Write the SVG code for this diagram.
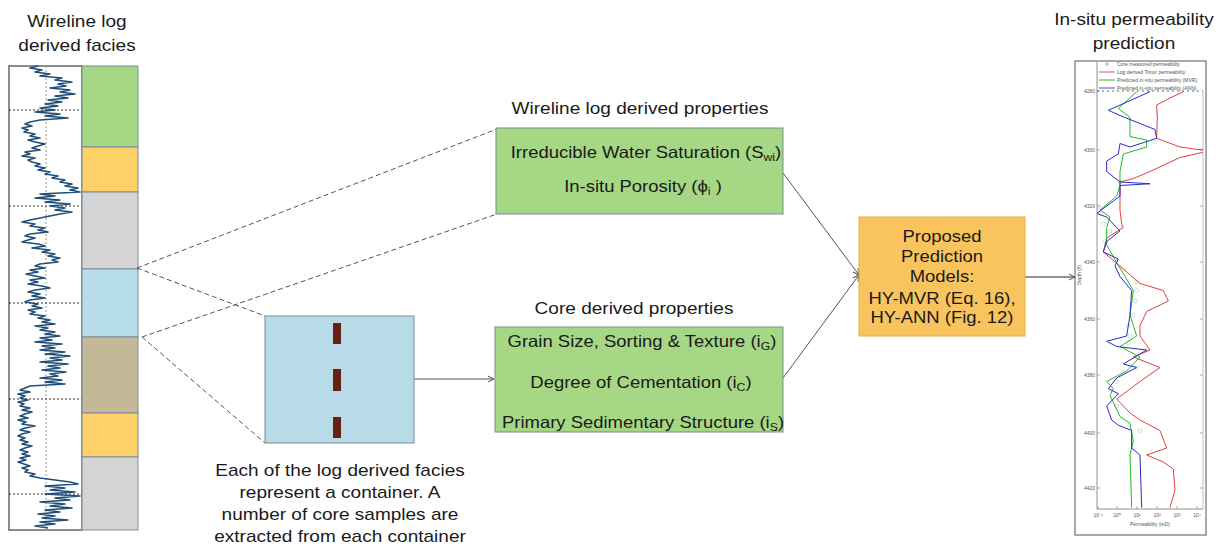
<svg xmlns="http://www.w3.org/2000/svg" width="1232" height="550" viewBox="0 0 1232 550">
<style>
.t{font-family:"Liberation Sans",Arial,sans-serif;fill:#1a1a1a;text-anchor:middle}
.f17{font-size:17px}
.f16{font-size:16.5px}
.sub{font-size:11px}
.box{stroke:#7a8a9a;stroke-width:1}
.dash{fill:none;stroke:#555;stroke-width:1;stroke-dasharray:5,3}
.solid{fill:none;stroke:#555;stroke-width:1}
.grid{stroke:#333;stroke-width:1;stroke-dasharray:2,2}
.tiny{font-family:"Liberation Sans",Arial,sans-serif;font-size:5px;fill:#555}
.cv{fill:none;vector-effect:non-scaling-stroke;stroke-width:1}
</style>
<defs>
<marker id="arr" markerWidth="8" markerHeight="8" refX="7" refY="4" orient="auto" markerUnits="userSpaceOnUse">
<path d="M1,1 L7,4 L1,7" fill="none" stroke="#555" stroke-width="1"/>
</marker>
<clipPath id="plotclip"><rect x="1097" y="91" width="106" height="418"/></clipPath>
</defs>
<rect width="1232" height="550" fill="#fff"/>

<!-- Left title -->
<g id="title-left">
<text class="t f17" transform="translate(77,27) scale(1.12,1)">Wireline log</text>
<text class="t f17" transform="translate(77,51) scale(1.12,1)">derived facies</text>
</g>

<!-- Wireline log and facies column -->
<g id="facies-log">
<rect x="9" y="66" width="73" height="464" fill="#fff" stroke="#666" stroke-width="1.5"/>
<line x1="46" y1="66" x2="46" y2="530" stroke="#999" stroke-width="1" stroke-dasharray="2,2"/>
<line class="grid" x1="9" y1="110" x2="82" y2="110"/>
<line class="grid" x1="9" y1="206" x2="82" y2="206"/>
<line class="grid" x1="9" y1="303" x2="82" y2="303"/>
<line class="grid" x1="9" y1="399" x2="82" y2="399"/>
<line class="grid" x1="9" y1="494" x2="82" y2="494"/>
<polyline fill="none" stroke="#1f4e79" stroke-width="1.6" stroke-linejoin="round" points="38,66 30,68 42,70 35,72 50,74 40,76 62,78 55,80 72,82 58,84 66,86 50,88 70,90 60,92 75,94 55,96 68,98 48,100 62,102 45,104 58,106 40,108 55,110 35,112 60,114 45,116 68,118 40,120 30,122 25,124 32,126 22,128 28,130 24,132 35,134 30,136 40,138 28,140 35,142 45,144 38,146 32,148 40,150 25,152 30,154 22,156 35,158 28,160 32,162 40,164 35,166 45,168 38,170 50,172 45,174 58,176 52,178 65,180 60,182 72,184 65,186 78,188 70,190 80,192 40,194 55,196 35,198 60,200 45,202 70,204 50,206 65,208 55,210 72,212 60,214 50,216 40,218 30,220 22,222 35,224 30,226 45,228 38,230 48,232 30,234 25,236 35,238 28,240 22,242 38,244 45,246 32,248 50,250 42,252 55,254 48,256 60,258 52,260 58,262 40,264 35,266 45,268 30,270 38,272 26,274 35,276 45,278 30,280 38,282 28,284 42,286 50,288 35,290 28,292 40,294 32,296 45,298 30,300 25,302 38,304 32,306 42,308 28,310 35,312 30,314 45,316 38,318 50,320 42,322 55,324 35,326 48,328 40,330 55,332 45,334 60,336 40,338 52,340 35,342 62,344 42,346 55,348 40,350 65,352 45,354 70,356 50,358 62,360 40,362 68,364 48,366 60,368 42,370 66,372 50,374 58,376 40,378 62,380 45,382 65,384 30,386 25,388 20,390 30,392 18,394 25,396 20,398 28,400 18,402 24,404 20,406 30,408 22,410 32,412 25,414 20,416 28,418 18,420 26,422 22,424 35,426 25,428 20,430 30,432 22,434 18,436 25,438 20,440 28,442 22,444 32,446 25,448 20,450 28,452 22,454 30,456 20,458 26,460 18,462 24,464 30,466 22,468 28,470 25,472 35,474 30,476 40,478 55,480 70,482 78,484 45,486 65,488 50,490 75,492 45,494 80,496 55,498 70,500 40,502 65,504 50,506 72,508 45,510 60,512 38,514 55,516 42,518 68,520 40,522 55,524 35,526 48,528"/>
<rect class="box" x="82" y="66" width="56" height="81" fill="#a6d784"/>
<rect class="box" x="82" y="147" width="56" height="45" fill="#fdd068"/>
<rect class="box" x="82" y="192" width="56" height="77" fill="#d4d4d4"/>
<rect class="box" x="82" y="269" width="56" height="68" fill="#b7dde8"/>
<rect class="box" x="82" y="337" width="56" height="76" fill="#c4b996"/>
<rect class="box" x="82" y="413" width="56" height="44" fill="#fdd068"/>
<rect class="box" x="82" y="457" width="56" height="73" fill="#d4d4d4"/>
</g>

<!-- Connectors -->
<g id="connectors">
<line class="dash" x1="137" y1="268" x2="497" y2="129"/>
<line class="dash" x1="137" y1="268" x2="265" y2="316"/>
<line class="dash" x1="142" y1="337" x2="497" y2="214"/>
<line class="dash" x1="142" y1="337" x2="265" y2="443"/>
<line class="solid" x1="414" y1="379" x2="494" y2="379" marker-end="url(#arr)"/>
<line class="solid" x1="783" y1="173" x2="859" y2="275" marker-end="url(#arr)"/>
<line class="solid" x1="783" y1="378" x2="859" y2="275" marker-end="url(#arr)"/>
<line x1="1025" y1="277" x2="1075" y2="277" stroke="#222" stroke-width="1" marker-end="url(#arr)"/>
</g>

<!-- Container -->
<g id="container">
<rect class="box" x="265" y="316" width="149" height="127" fill="#b7dce8"/>
<rect x="333" y="323" width="8" height="21" fill="#6a1f16"/>
<rect x="333" y="369" width="8" height="22" fill="#6a1f16"/>
<rect x="333" y="417" width="8" height="21" fill="#6a1f16"/>
<text class="t f17" transform="translate(340,476) scale(1.12,1)">Each of the log derived facies</text>
<text class="t f17" transform="translate(340,498) scale(1.12,1)">represent a container. A</text>
<text class="t f17" transform="translate(340,520) scale(1.12,1)">number of core samples are</text>
<text class="t f17" transform="translate(340,542) scale(1.12,1)">extracted from each container</text>
</g>

<!-- Wireline log derived properties -->
<g id="wireline-props">
<text class="t f17" transform="translate(640,114) scale(1.12,1)">Wireline log derived properties</text>
<rect class="box" x="496" y="128" width="287" height="86" fill="#a6d784"/>
<text class="t f16" transform="translate(646,158) scale(1.12,1)">Irreducible Water Saturation (S<tspan class="sub" dy="3">wi</tspan><tspan dy="-3">)</tspan></text>
<text class="t f16" transform="translate(643,192) scale(1.12,1)">In-situ Porosity (ϕ<tspan class="sub" dy="3">i</tspan><tspan dy="-3"> )</tspan></text>
</g>

<!-- Core derived properties -->
<g id="core-props">
<text class="t f17" transform="translate(634,314) scale(1.12,1)">Core derived properties</text>
<rect class="box" x="495" y="327" width="288" height="105" fill="#a6d784"/>
<text class="t f16" transform="translate(642,347) scale(1.12,1)">Grain Size, Sorting &amp; Texture (i<tspan class="sub" dy="3">G</tspan><tspan dy="-3">)</tspan></text>
<text class="t f16" transform="translate(641,388) scale(1.12,1)">Degree of Cementation (i<tspan class="sub" dy="3">C</tspan><tspan dy="-3">)</tspan></text>
<text class="t f16" transform="translate(643,428) scale(1.12,1)">Primary Sedimentary Structure (i<tspan class="sub" dy="3">S</tspan><tspan dy="-3">)</tspan></text>
</g>

<!-- Prediction models -->
<g id="models">
<rect x="859" y="217" width="166" height="119" fill="#f9c45e" stroke="#e0b050" stroke-width="1"/>
<text class="t f16" transform="translate(942,242) scale(1.12,1)">Proposed</text>
<text class="t f16" transform="translate(942,262) scale(1.12,1)">Prediction</text>
<text class="t f16" transform="translate(942,282) scale(1.12,1)">Models:</text>
<text class="t f16" transform="translate(942,304) scale(1.12,1)">HY-MVR (Eq. 16),</text>
<text class="t f16" transform="translate(942,323) scale(1.12,1)">HY-ANN (Fig. 12)</text>
</g>

<!-- Permeability chart -->
<g id="chart">
<text class="t f17" transform="translate(1134,25) scale(1.12,1)">In-situ permeability</text>
<text class="t f17" transform="translate(1134,49) scale(1.12,1)">prediction</text>
<rect x="1075" y="61" width="131" height="474" fill="#fff" stroke="#555" stroke-width="1"/>
<line x1="1097" y1="62" x2="1097" y2="509" stroke="#777" stroke-width="0.8"/>
<line x1="1097" y1="509" x2="1203" y2="509" stroke="#777" stroke-width="0.8"/>
<line x1="1203" y1="91" x2="1203" y2="509" stroke="#999" stroke-width="0.6"/>
<line x1="1097" y1="91" x2="1203" y2="91" stroke="#444" stroke-width="0.8" stroke-dasharray="2,3"/>
<!-- legend -->
<circle cx="1107" cy="64" r="1.3" fill="none" stroke="#666" stroke-width="0.5"/>
<line x1="1099" y1="72" x2="1115" y2="72" stroke="#e03030" stroke-width="0.8"/>
<line x1="1099" y1="80" x2="1115" y2="80" stroke="#22bb22" stroke-width="1"/>
<line x1="1099" y1="88" x2="1115" y2="88" stroke="#2020b0" stroke-width="0.8"/>
<text class="tiny" x="1117" y="66">Core measured permeability</text>
<text class="tiny" x="1117" y="74">Log derived Timur permeability</text>
<text class="tiny" x="1117" y="82">Predicted in-situ permeability (MVR)</text>
<text class="tiny" x="1117" y="90">Predicted in-situ permeability (ANN)</text>
<!-- y ticks -->
<g stroke="#777" stroke-width="0.6">
<line x1="1097" y1="91" x2="1100" y2="91"/><line x1="1097" y1="150" x2="1100" y2="150"/><line x1="1097" y1="206" x2="1100" y2="206"/><line x1="1097" y1="262" x2="1100" y2="262"/><line x1="1097" y1="319" x2="1100" y2="319"/><line x1="1097" y1="375" x2="1100" y2="375"/><line x1="1097" y1="433" x2="1100" y2="433"/><line x1="1097" y1="488" x2="1100" y2="488"/>
<line x1="1200" y1="150" x2="1203" y2="150"/><line x1="1200" y1="206" x2="1203" y2="206"/><line x1="1200" y1="262" x2="1203" y2="262"/><line x1="1200" y1="319" x2="1203" y2="319"/><line x1="1200" y1="375" x2="1203" y2="375"/><line x1="1200" y1="433" x2="1203" y2="433"/><line x1="1200" y1="488" x2="1203" y2="488"/>
<line x1="1098" y1="509" x2="1098" y2="506"/><line x1="1117" y1="509" x2="1117" y2="506"/><line x1="1137" y1="509" x2="1137" y2="506"/><line x1="1157" y1="509" x2="1157" y2="506"/><line x1="1177" y1="509" x2="1177" y2="506"/><line x1="1197" y1="509" x2="1197" y2="506"/>
</g>
<g class="tiny" text-anchor="end">
<text x="1095" y="93">4280</text><text x="1095" y="152">4300</text><text x="1095" y="208">4320</text><text x="1095" y="264">4340</text><text x="1095" y="321">4360</text><text x="1095" y="377">4380</text><text x="1095" y="435">4400</text><text x="1095" y="490">4420</text>
</g>
<g class="tiny" text-anchor="middle">
<text x="1098" y="517">10⁻¹</text><text x="1117" y="517">10⁰</text><text x="1137" y="517">10¹</text><text x="1157" y="517">10²</text><text x="1177" y="517">10³</text><text x="1197" y="517">10⁴</text>
<text x="1150" y="526">Permeability (mD)</text>
<text transform="translate(1081,275) rotate(-90)">Depth (ft)</text>
</g>
<g clip-path="url(#plotclip)">
<g transform="translate(1040,0) scale(0.3333,0.35)">
<polyline class="cv" stroke="#e04040" points="430,262 390,280 350,300 352,340 350,395 420,420 480,428 560,420 420,450 330,490 280,510 240,520 240,600 245,640 250,650 200,680 190,720 240,760 300,810 370,830 385,860 320,890 300,930 300,960 330,1000 280,1020 360,1050 300,1090 230,1140 270,1180 300,1200 360,1230 380,1280 320,1300 370,1320 400,1340 405,1400 390,1450"/>
<polyline class="cv" stroke="#22bb22" points="290,262 235,310 270,335 270,390 320,400 320,420 250,440 240,490 240,530 230,560 180,600 210,620 200,650 200,700 230,750 280,830 270,900 290,960 240,990 300,1020 260,1060 200,1090 220,1110 210,1130 240,1190 270,1210 280,1260 270,1300 275,1450"/>
<polyline class="cv" stroke="#2a2ad0" points="330,262 205,315 240,330 345,370 350,395 270,420 240,410 235,440 200,460 200,490 240,520 330,525 240,530 240,560 170,610 200,620 240,660 200,690 190,720 235,740 225,760 240,790 275,830 270,900 260,960 200,975 230,990 320,1000 250,1040 290,1050 230,1080 205,1110 235,1125 200,1160 215,1200 235,1215 275,1230 275,1280 300,1300 305,1450"/>
<g fill="none" stroke="#555" stroke-width="0.6" vector-effect="non-scaling-stroke">
<ellipse cx="345" cy="405" rx="6" ry="5.7"/><ellipse cx="240" cy="520" rx="6" ry="5.7"/><ellipse cx="175" cy="590" rx="6" ry="5.7"/><ellipse cx="190" cy="640" rx="6" ry="5.7"/><ellipse cx="210" cy="660" rx="6" ry="5.7"/><ellipse cx="195" cy="690" rx="6" ry="5.7"/><ellipse cx="250" cy="770" rx="6" ry="5.7"/><ellipse cx="290" cy="805" rx="6" ry="5.7"/><ellipse cx="290" cy="830" rx="6" ry="5.7"/><ellipse cx="285" cy="860" rx="6" ry="5.7"/><ellipse cx="280" cy="900" rx="6" ry="5.7"/><ellipse cx="265" cy="930" rx="6" ry="5.7"/><ellipse cx="270" cy="960" rx="6" ry="5.7"/><ellipse cx="265" cy="980" rx="6" ry="5.7"/><ellipse cx="290" cy="1050" rx="6" ry="5.7"/><ellipse cx="230" cy="1090" rx="6" ry="5.7"/><ellipse cx="230" cy="1160" rx="6" ry="5.7"/><ellipse cx="300" cy="1230" rx="6" ry="5.7"/>
</g>
</g>
</g>
</g>
</svg>
